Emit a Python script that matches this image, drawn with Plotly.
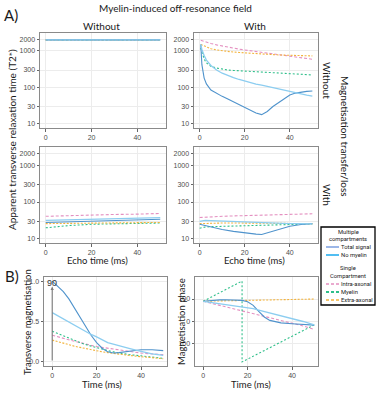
import plotly.graph_objects as go

# ---------------- data ----------------
# A) apparent T2* (ms) vs echo time (ms)
flat_time = [0, 50]
flat_total = [2000, 2000]
flat_nomyelin = [2000, 2000]
flat_intra = [2000, 2000]
flat_myelin = [2000, 2000]
flat_extra = [2000, 2000]

tr_time = [0.5, 1, 2, 3, 5, 7.5, 10, 12.5, 15, 17.5, 20, 22.5, 25, 27.5, 30, 32.5, 35, 37.5, 40, 42.5, 45, 47.5, 50]
tr_total = [1500, 420, 180, 125, 85, 68, 57, 48, 40, 33, 28, 23.5, 20, 18, 22, 30, 38, 50, 62, 70, 75, 78, 80]
tr_nomyelin = [1500, 1100, 750, 560, 400, 300, 245, 210, 185, 165, 148, 135, 124, 115, 106, 98, 91, 84, 78, 72, 67, 62, 58]
tr_intra = [1950, 1900, 1820, 1750, 1600, 1460, 1350, 1260, 1180, 1120, 1060, 1010, 960, 920, 880, 845, 810, 775, 740, 700, 660, 625, 590]
tr_myelin = [1200, 900, 600, 470, 380, 340, 315, 300, 292, 286, 280, 276, 272, 268, 264, 259, 254, 248, 243, 238, 232, 226, 220]
tr_extra = [1500, 1450, 1380, 1300, 1150, 1060, 1000, 960, 930, 905, 880, 860, 840, 820, 800, 788, 775, 765, 755, 748, 740, 735, 730]

bl_time = [0, 10, 20, 30, 40, 50]
bl_total = [28, 29, 30, 31, 32, 34]
bl_nomyelin = [32, 33, 34, 35, 36, 38]
bl_intra = [41, 43, 45, 46, 47, 49]
bl_myelin = [20, 23, 25, 26, 26.5, 27]
bl_extra = [26, 26.5, 27, 27, 27.5, 28]

br_time = [0, 2.5, 5, 10, 15, 20, 25, 27.5, 30, 35, 40, 45, 50]
br_total = [25, 23, 21, 18, 16, 14.5, 13.5, 13.2, 14.5, 18, 22, 24.5, 26]
br_nomyelin = [30, 32, 31.5, 30.5, 29.5, 28.5, 28, 27.5, 27, 26.5, 26, 26, 25.5]
br_intra = [38, 39, 40, 41, 42, 43, 44, 44.5, 45, 45.5, 46, 47, 48]
br_myelin = [19.5, 21, 21.5, 22, 22.5, 23, 23.5, 23.7, 24, 24.5, 25, 25, 25.5]
br_extra = [26, 26.5, 27, 27, 27, 27, 26.8, 26.7, 26.5, 26.3, 26, 26, 26]

t2_ticks = [10, 30, 100, 300, 1000, 2000]

# B) magnetisation vs time (ms)
b_time = [0, 2.5, 5, 7.5, 10, 12.5, 15, 17.5, 20, 22.5, 25, 27.5, 30, 35, 40, 45, 50]
mag_total = [1.0, 0.94, 0.87, 0.78, 0.67, 0.56, 0.45, 0.33, 0.24, 0.17, 0.125, 0.11, 0.115, 0.135, 0.15, 0.15, 0.14]
mag_nomyelin = [0.61, 0.57, 0.53, 0.49, 0.45, 0.41, 0.37, 0.34, 0.31, 0.28, 0.24, 0.22, 0.2, 0.165, 0.13, 0.1, 0.08]
mag_intra = [0.33, 0.31, 0.29, 0.27, 0.255, 0.24, 0.22, 0.205, 0.19, 0.18, 0.165, 0.155, 0.145, 0.125, 0.11, 0.1, 0.09]
mag_myelin = [0.38, 0.35, 0.32, 0.29, 0.265, 0.24, 0.215, 0.195, 0.175, 0.155, 0.14, 0.125, 0.11, 0.09, 0.075, 0.058, 0.045]
mag_extra = [0.27, 0.25, 0.23, 0.21, 0.195, 0.18, 0.165, 0.15, 0.14, 0.125, 0.115, 0.105, 0.095, 0.08, 0.065, 0.05, 0.04]

ph_total = [90, 93, 95, 96, 97, 97, 96, 94, 88, 72, 45, 20, 5, -6, -10, -13, -16]
ph_nomyelin = [90, 86.5, 83, 79.5, 76, 72.5, 69, 65.5, 62, 57, 51, 45, 39, 27, 14, 0, -15]
ph_intra = [90, 84, 78, 72, 66, 60, 54, 49, 43, 37, 31, 24, 18, 6, -6, -20, -35]
ph_extra = [90, 90.5, 91, 91.5, 92, 92, 92.5, 93, 93, 94, 94.5, 95, 96, 97, 98, 99, 100]
ph_myelin_time = [0, 17.5, 17.5, 50]
ph_myelin = [90, 180, -180, -15]

pulse_time = 0
pulse_top = 0.93
pulse_label = "90"

phase_ticks = [-100, 0, 100]
phase_ticktext = ["100", "0", "100"]

# ---------------- styles ----------------
W, H = 377, 400
C_TOTAL = "#4f93cc"
C_NOMY = "#8ccdf0"
C_INTRA = "#e48fc0"
C_MYE = "#2fbf8a"
C_EXTRA = "#f3b33d"
L_TOTAL = "#7b9fe0"
L_NOMY = "#19a9ee"

FONT = "Lato"
NARROW = "Liberation Sans Narrow, Roboto, Lato"
TICKFONT = dict(family="Liberation Sans", size=7, color="#4d4d4d")


def px(x):
    return x / W


def py(y):
    return 1 - y / H


fig = go.Figure()

series_style = [
    ("total", dict(color=C_TOTAL, width=1.1)),
    ("nomyelin", dict(color=C_NOMY, width=1.3)),
    ("intra", dict(color=C_INTRA, width=1.1, dash="3px,2px")),
    ("myelin", dict(color=C_MYE, width=1.1, dash="2px,2px")),
    ("extra", dict(color=C_EXTRA, width=1.1, dash="2px,1.5px")),
]


def add_panel(xa, ya, time, data):
    order = ["intra", "myelin", "extra", "total", "nomyelin"]
    styles = dict(series_style)
    for key in order:
        fig.add_trace(go.Scatter(x=time, y=data[key], mode="lines", line=styles[key],
                                 xaxis=xa, yaxis=ya, showlegend=False, hoverinfo="skip"))


add_panel("x", "y", flat_time, dict(total=flat_total, nomyelin=flat_nomyelin, intra=flat_intra,
                                    myelin=flat_myelin, extra=flat_extra))
add_panel("x2", "y2", tr_time, dict(total=tr_total, nomyelin=tr_nomyelin, intra=tr_intra,
                                    myelin=tr_myelin, extra=tr_extra))
add_panel("x3", "y3", bl_time, dict(total=bl_total, nomyelin=bl_nomyelin, intra=bl_intra,
                                    myelin=bl_myelin, extra=bl_extra))
add_panel("x4", "y4", br_time, dict(total=br_total, nomyelin=br_nomyelin, intra=br_intra,
                                    myelin=br_myelin, extra=br_extra))
add_panel("x5", "y5", b_time, dict(total=mag_total, nomyelin=mag_nomyelin, intra=mag_intra,
                                   myelin=mag_myelin, extra=mag_extra))

# phase panel
styles = dict(series_style)
fig.add_trace(go.Scatter(x=b_time, y=ph_intra, mode="lines", line=styles["intra"], xaxis="x6", yaxis="y6",
                         showlegend=False, hoverinfo="skip"))
fig.add_trace(go.Scatter(x=ph_myelin_time, y=ph_myelin, mode="lines", line=styles["myelin"], xaxis="x6",
                         yaxis="y6", showlegend=False, hoverinfo="skip"))
fig.add_trace(go.Scatter(x=b_time, y=ph_extra, mode="lines", line=styles["extra"], xaxis="x6", yaxis="y6",
                         showlegend=False, hoverinfo="skip"))
fig.add_trace(go.Scatter(x=b_time, y=ph_total, mode="lines", line=styles["total"], xaxis="x6", yaxis="y6",
                         showlegend=False, hoverinfo="skip"))
fig.add_trace(go.Scatter(x=b_time, y=ph_nomyelin, mode="lines", line=styles["nomyelin"], xaxis="x6",
                         yaxis="y6", showlegend=False, hoverinfo="skip"))

# ---------------- axes ----------------
common = dict(showline=True, mirror=True, linecolor="#8a8a8a", linewidth=1,
              ticks="outside", ticklen=2.5, tickwidth=0.8, tickcolor="#666",
              showgrid=True, gridcolor="#ececec", gridwidth=0.7, zeroline=False,
              tickfont=TICKFONT)

xA = dict(common, range=[-2.5, 52.5], tickvals=[0, 20, 40])
yA = dict(common, type="log", range=[0.89, 3.49], tickvals=t2_ticks,
          ticktext=[str(v) for v in t2_ticks])
xB = dict(common, range=[-3.7, 51.7], tickvals=[0, 20, 40])

lay = dict(
    xaxis=dict(xA, domain=[px(40), px(166)], anchor="y"),
    yaxis=dict(yA, domain=[py(128), py(33)], anchor="x"),
    xaxis2=dict(xA, domain=[px(194), px(318)], anchor="y2"),
    yaxis2=dict(yA, domain=[py(128), py(33)], anchor="x2"),
    xaxis3=dict(xA, domain=[px(40), px(166)], anchor="y3"),
    yaxis3=dict(yA, domain=[py(243), py(147)], anchor="x3"),
    xaxis4=dict(xA, domain=[px(194), px(318)], anchor="y4"),
    yaxis4=dict(yA, domain=[py(243), py(147)], anchor="x4"),
    xaxis5=dict(xB, domain=[px(44), px(167)], anchor="y5"),
    yaxis5=dict(common, range=[-0.05, 1.05], tickvals=[0, 0.5, 1.0],
                ticktext=["0.0", "0.5", "1.0"], domain=[py(366), py(277)], anchor="x5"),
    xaxis6=dict(xB, domain=[px(195), px(318)], anchor="y6"),
    yaxis6=dict(common, range=[-198, 198], tickvals=phase_ticks, ticktext=phase_ticktext,
                domain=[py(366), py(277)], anchor="x6"),
)

annotations = []


def txt(text, x, y, size=10, angle=0, xanchor="center", color="#1a1a1a", family=FONT):
    annotations.append(dict(text=text, x=px(x), y=py(y), xref="paper", yref="paper",
                            showarrow=False, textangle=angle, xanchor=xanchor, yanchor="middle",
                            borderpad=0, font=dict(family=family, size=size, color=color)))


txt("A)", 3, 15, size=15, xanchor="left")
txt("B)", 4, 276, size=15, xanchor="left")
txt("Myelin-induced off-resonance field", 175, 8, size=10)
txt("Without", 101, 26, size=10)
txt("With", 255, 26, size=10)
txt("Without", 327, 80, size=10, angle=90)
txt("With", 327, 195, size=10, angle=90)
txt("Magnetisation transfer/loss", 345, 136, size=10, angle=90)
txt("Apparent transverse relaxation time (T2*)", 12, 140, size=10, angle=-90)
txt("Echo time (ms)", 97, 260, size=9.5)
txt("Echo time (ms)", 254, 260, size=9.5)
txt("Time (ms)", 102, 384, size=9.5)
txt("Time (ms)", 251, 384, size=9.5)
txt("Transverse magnetisation", 27, 322, size=9.5, angle=-90)
txt("Magnetisation phase", 181, 322, size=9.5, angle=-90)

# pulse arrow
annotations.append(dict(x=pulse_time, y=pulse_top, ax=pulse_time, ay=0, xref="x5", yref="y5",
                        axref="x5", ayref="y5", showarrow=True, arrowhead=2, arrowsize=0.6,
                        arrowwidth=1.1, arrowcolor="#7a7a7a", text=""))
annotations.append(dict(x=pulse_time, y=pulse_top + 0.04, xref="x5", yref="y5", text=pulse_label,
                        showarrow=False, font=dict(family="Liberation Sans", size=9, color="#333"),
                        xanchor="center", yanchor="middle"))

# legend (drawn manually)
shapes = [dict(type="rect", xref="paper", yref="paper", x0=px(321), x1=px(375), y0=py(305), y1=py(227),
               line=dict(color="black", width=1.3), fillcolor="white", layer="below")]
LF = 5.8
txt("Multiple", 348, 232, size=LF, family=NARROW)
txt("compartments", 348, 239, size=LF, family=NARROW)
txt("Single", 348, 268, size=LF, family=NARROW)
txt("Compartment", 348, 276, size=LF, family=NARROW)
legend_items = [
    ("Total signal", 247, dict(color=L_TOTAL, width=1.5)),
    ("No myelin", 255, dict(color=L_NOMY, width=1.5)),
    ("Intra-axonal", 284, dict(color=C_INTRA, width=1.3, dash="3px,2px")),
    ("Myelin", 292, dict(color=C_MYE, width=2, dash="3px,2px")),
    ("Extra-axonal", 300, dict(color=C_EXTRA, width=1.3, dash="3px,2px")),
]
for label, yy, ln in legend_items:
    shapes.append(dict(type="line", xref="paper", yref="paper", x0=px(326), x1=px(339), y0=py(yy),
                       y1=py(yy), line=ln, layer="above"))
    txt(label, 339.5, yy, size=LF, xanchor="left", family=NARROW)

fig.update_layout(
    width=W, height=H, margin=dict(l=0, r=0, t=0, b=0),
    paper_bgcolor="white", plot_bgcolor="white", showlegend=False,
    annotations=annotations, shapes=shapes, **lay,
)

fig.write_html("out.html", config={"displayModeBar": False},
               post_script="document.body.style.margin='0px';document.body.style.overflow='hidden';")
